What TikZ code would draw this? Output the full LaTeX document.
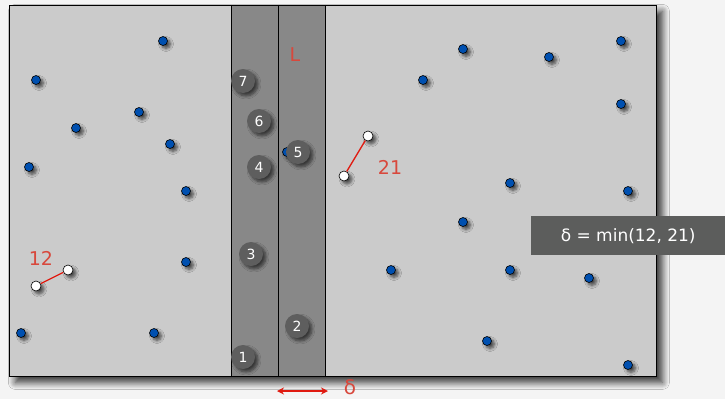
\documentclass[tikz,border=0pt]{standalone}
\usepackage{fontspec}
\setmainfont{DejaVu Sans}
\usetikzlibrary{shadows.blur,arrows.meta}
\definecolor{bgc}{HTML}{F4F4F4}
\definecolor{boxc}{HTML}{CBCBCB}
\definecolor{stripc}{HTML}{888888}
\definecolor{numc}{HTML}{5E5E5E}
\definecolor{labc}{HTML}{5C5D5C}
\definecolor{dotc}{HTML}{0050B0}
\definecolor{redc}{HTML}{D8483C}
\definecolor{linec}{HTML}{E01A10}
\tikzset{
  pt/.style={circle,draw=black,line width=0.6pt,fill=dotc,minimum size=9pt,inner sep=0pt,
    blur shadow={shadow xshift=3pt,shadow yshift=-3pt,shadow blur steps=6,shadow opacity=65,shadow blur radius=3pt}},
  wpt/.style={pt,fill=white,minimum size=10pt},
  numpt/.style={circle,fill=numc,minimum size=24pt,inner sep=0pt,text=white,font=\fontsize{14}{14}\selectfont,
    blur shadow={shadow xshift=3pt,shadow yshift=-3pt,shadow blur steps=6,shadow opacity=60,shadow blur radius=3pt}},
  redlab/.style={text=redc,font=\fontsize{19}{19}\selectfont},
}
\begin{document}
\begin{tikzpicture}[x=1pt,y=-1pt]
\fill[bgc] (0,0) rectangle (725,399);
\useasboundingbox (0,0) rectangle (725,399);
\node[draw=black,line width=0.8pt,fill=boxc,minimum width=647pt,minimum height=371pt,inner sep=0pt,anchor=north west,
  blur shadow={shadow xshift=6pt,shadow yshift=-6pt,shadow blur steps=10,shadow opacity=80,shadow blur radius=7pt}] (box) at (9,5) {};
\node[draw=black,line width=0.6pt,fill=stripc,minimum width=47pt,minimum height=371pt,inner sep=0pt,anchor=north west] (sl) at (231,5) {};
\node[draw=black,line width=0.6pt,fill=stripc,minimum width=47pt,minimum height=371pt,inner sep=0pt,anchor=north west] (sr) at (278,5) {};
\node[redlab] (L) at (295,55) {L};
% left points
\node[pt] (a1) at (163,41) {};
\node[pt] (a2) at (36,80) {};
\node[pt] (a3) at (139,112) {};
\node[pt] (a4) at (76,128) {};
\node[pt] (a5) at (170,144) {};
\node[pt] (a6) at (29,167) {};
\node[pt] (a7) at (186,191) {};
\node[pt] (a8) at (186,262) {};
\node[pt] (a9) at (21,333) {};
\node[pt] (a10) at (154,333) {};
% right points
\node[pt] (b1) at (463,49) {};
\node[pt] (b2) at (549,57) {};
\node[pt] (b3) at (621,41) {};
\node[pt] (b4) at (423,80) {};
\node[pt] (b5) at (621,104) {};
\node[pt] (b6) at (510,183) {};
\node[pt] (b7) at (628,191) {};
\node[pt] (b8) at (463,222) {};
\node[pt] (b9) at (391,270) {};
\node[pt] (b10) at (510,270) {};
\node[pt] (b11) at (589,278) {};
\node[pt] (b12) at (487,341) {};
\node[pt] (b13) at (628,365) {};
\node[pt] (h1) at (287,152) {};
% closest pairs
\node[wpt] (p1) at (36,286) {};
\node[wpt] (p2) at (68,270) {};
\draw[linec,line width=1.3pt] (p1) -- (p2);
\node[redlab] (l12) at (41,258) {12};
\node[wpt] (q1) at (344,176) {};
\node[wpt] (q2) at (368,136) {};
\draw[linec,line width=1.3pt] (q1) -- (q2);
\node[redlab] (l21) at (390,167) {21};
% numbered strip points
\node[numpt] (n7) at (243,81) {7};
\node[numpt] (n6) at (259,121) {6};
\node[numpt] (n5) at (298,152) {5};
\node[numpt] (n4) at (259,167) {4};
\node[numpt] (n3) at (251,254) {3};
\node[numpt] (n2) at (297,326) {2};
\node[numpt] (n1) at (243,357) {1};
% label
\node[fill=labc,text=white,minimum width=194pt,minimum height=39pt,inner sep=0pt,anchor=north west,
  font=\fontsize{17}{17}\selectfont] (res) at (531,216) {δ = min(12, 21)};
% delta
\coordinate (d1) at (277,391);
\coordinate (d2) at (328,391);
\draw[linec,line width=1.2pt,{Stealth[length=7pt,width=7pt]}-{Stealth[length=7pt,width=7pt]}] (d1) -- (d2);
\node[redlab,font=\fontsize{20}{20}\selectfont] (dl) at (350,387) {δ};
\end{tikzpicture}
\end{document}
